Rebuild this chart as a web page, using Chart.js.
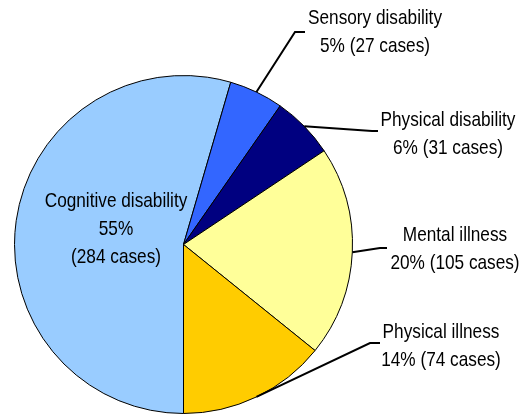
<!DOCTYPE html>
<html>
<head>
<meta charset="utf-8">
<script src="https://cdn.jsdelivr.net/npm/chart.js@4"></script>
<style>
  html, body { margin: 0; padding: 0; background: #fff; }
  #wrap { width: 521px; height: 414px; }
</style>
</head>
<body>
<div id="wrap"><canvas id="pie-canvas" width="521" height="414"></canvas></div>
<script>
// data, clockwise from the bottom
const categories = ["Cognitive disability", "Sensory disability", "Physical disability", "Mental illness", "Physical illness"];
const cases = [284, 27, 31, 105, 74];
const sliceColors = ['#99CCFF', '#3366FF', '#000080', '#FFFF99', '#FFCC00'];

// where the text goes (centre x, first line y), and leader elbows
const labelSpots = [
    { x: 116, y: 201, inside: true },
    { x: 375, y: 18, elbow: [295, 32], end: [305, 32] },
    { x: 448, y: 120, elbow: [372, 131], end: [378, 131] },
    { x: 455, y: 235, elbow: [380, 248], end: [387, 248] },
    { x: 441, y: 332, elbow: [370, 343], end: [380, 343] }
];

function pickFont() {
    const c = document.createElement('canvas').getContext('2d');
    c.font = "21px 'Liberation Sans Narrow', monospace";
    const a = c.measureText('Sensory disability').width;
    c.font = "21px monospace";
    const b = c.measureText('Sensory disability').width;
    if (Math.abs(a - b) > 0.5) return { font: "21px 'Liberation Sans Narrow'", sx: 1 };
    return { font: "21px 'Liberation Sans', Arial", sx: 0.82 };
}

const labelPlugin = {
    id: 'caseLabels',
    afterDraw(chart) {
        const ctx = chart.ctx;
        const meta = chart.getDatasetMeta(0);
        const total = cases.reduce((s, v) => s + v, 0);
        const f = pickFont();
        ctx.save();
        meta.data.forEach((arc, i) => {
            const p = arc.getProps(['x', 'y', 'startAngle', 'endAngle', 'outerRadius'], true);
            const spot = labelSpots[i];
            const pct = Math.round(cases[i] / total * 100) + '%';
            let lines;
            if (spot.inside) {
                lines = [categories[i], pct, '(' + cases[i] + ' cases)'];
            } else {
                lines = [categories[i], pct + ' (' + cases[i] + ' cases)'];
                const mid = (p.startAngle + p.endAngle) / 2;
                const sx = p.x + Math.cos(mid) * p.outerRadius;
                const sy = p.y + Math.sin(mid) * p.outerRadius;
                ctx.strokeStyle = '#000';
                ctx.lineWidth = 2;
                ctx.beginPath();
                ctx.moveTo(sx, sy);
                ctx.lineTo(spot.elbow[0], spot.elbow[1]);
                ctx.lineTo(spot.end[0], spot.end[1]);
                ctx.stroke();
            }
            ctx.fillStyle = '#000';
            ctx.font = f.font;
            ctx.textAlign = 'center';
            ctx.textBaseline = 'middle';
            lines.forEach((t, k) => {
                ctx.save();
                ctx.translate(spot.x, spot.y + k * 28);
                ctx.scale(f.sx, 1);
                ctx.fillText(t, 0, 0);
                ctx.restore();
            });
        });
        ctx.restore();
    }
};

document.addEventListener("DOMContentLoaded", () => {
    const ctxPie = document.getElementById('pie-canvas').getContext('2d');
    new Chart(ctxPie, {
        type: 'pie',
        data: {
            labels: categories,
            datasets: [{
                data: cases,
                backgroundColor: sliceColors,
                borderColor: '#000',
                borderWidth: 1
            }]
        },
        options: {
            responsive: false,
            animation: false,
            rotation: 180,
            layout: { padding: { left: 14, right: 168, top: 75, bottom: 0 } },
            plugins: {
                legend: { display: false },
                tooltip: { enabled: false }
            }
        },
        plugins: [labelPlugin]
    });
});
</script>
</body>
</html>
